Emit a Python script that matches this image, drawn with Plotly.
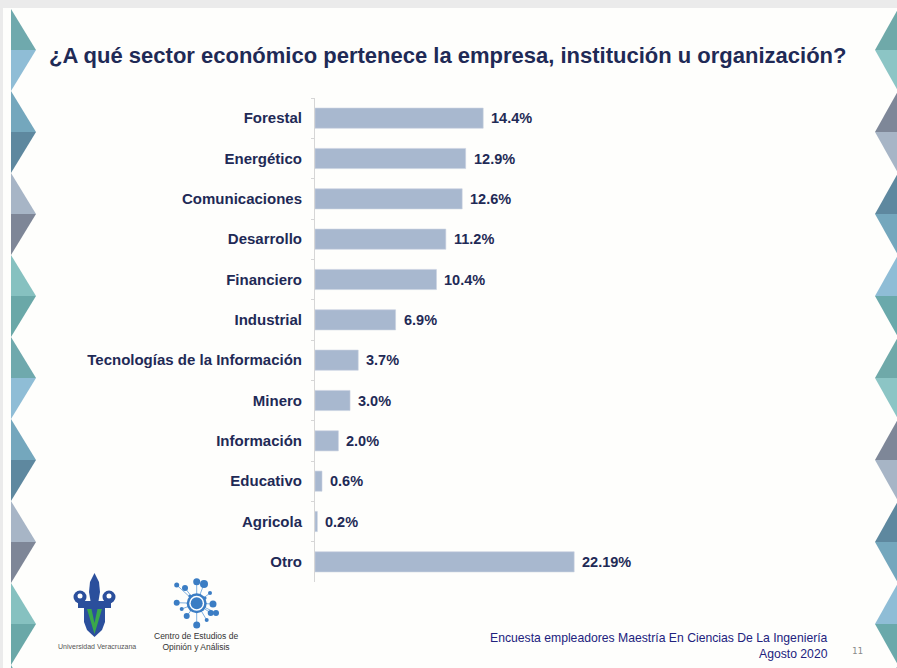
import plotly.graph_objects as go

W, H = 897, 668
L, R, T, B = 315, 290, 98, 86
PW, PH = W - L - R, H - T - B

categories = ["Forestal", "Energético", "Comunicaciones", "Desarrollo", "Financiero",
              "Industrial", "Tecnologías de la Información", "Minero", "Información",
              "Educativo", "Agricola", "Otro"]
values = [14.4, 12.9, 12.6, 11.2, 10.4, 6.9, 3.7, 3.0, 2.0, 0.6, 0.2, 22.19]
value_labels = ["14.4%", "12.9%", "12.6%", "11.2%", "10.4%", "6.9%", "3.7%", "3.0%",
                "2.0%", "0.6%", "0.2%", "22.19%"]

title = "¿A qué sector económico pertenece la empresa, institución u organización?"
footer1 = "Encuesta empleadores Maestría En Ciencias De La Ingeniería"
footer2 = "Agosto 2020"

NAVY = "#1f2a56"
FONT = "Liberation Sans"


def px(x):
    return (x - L) / PW


def py(y):
    return (H - B - y) / PH


def path(points):
    s = "M " + " L ".join(f"{px(x):.5f},{py(y):.5f}" for x, y in points) + " Z"
    return s


fig = go.Figure()
fig.add_trace(go.Bar(
    y=categories, x=values, orientation="h", width=0.5,
    marker=dict(color="#a8b8cf", line=dict(color="#c9d2e0", width=0.6)),
    hoverinfo="skip", cliponaxis=False,
))

shapes = []
# top grey band and left grey strip
shapes.append(dict(type="path", xref="paper", yref="paper", layer="below",
                   path=path([(0, 0), (W, 0), (W, 8), (0, 8)]),
                   fillcolor="#ebebeb", line=dict(width=0)))
shapes.append(dict(type="path", xref="paper", yref="paper", layer="below",
                   path=path([(0, 8), (3, 8), (3, H), (0, H)]),
                   fillcolor="#ebebeb", line=dict(width=0)))

left_cols = [("#6fa9ad", "#8fbdd6"), ("#74a7bd", "#5e889f"),
             ("#a7b5c6", "#7e8697"), ("#86c1c0", "#6aa8a8")]
right_cols = [("#6fa9a9", "#8cc5c5"), ("#7e8798", "#a7b5c6"),
              ("#5e889f", "#74a7bd"), ("#8fbdd6", "#6aa9ab")]
P = 82
for k in range(9):
    y0 = 9 + P * k
    ym = y0 + P / 2
    y1 = y0 + P
    lt, lb = left_cols[k % 4]
    rt, rb = right_cols[k % 4]
    for pts, col in [([(11, y0), (36, ym), (11, ym)], lt),
                     ([(11, ym), (36, ym), (11, y1)], lb),
                     ([(898, y0), (875, ym), (898, ym)], rt),
                     ([(898, ym), (875, ym), (898, y1)], rb)]:
        shapes.append(dict(type="path", xref="paper", yref="paper", layer="below",
                           path=path(pts), fillcolor=col, line=dict(width=0)))

# UV logo (approximation)
BLUE = "#2b4f9c"
GREEN = "#3aa84a"


def circ(cx, cy, r, col):
    return dict(type="circle", xref="paper", yref="paper",
                x0=px(cx - r), x1=px(cx + r), y0=py(cy + r), y1=py(cy - r),
                fillcolor=col, line=dict(width=0))


shapes.append(dict(type="path", xref="paper", yref="paper",
                   path=path([(94.5, 573), (99, 582), (100, 592), (98, 604), (91, 604), (89, 592), (90, 582)]),
                   fillcolor=BLUE, line=dict(width=0)))
shapes.append(circ(80, 597, 6.5, BLUE))
shapes.append(circ(109, 597, 6.5, BLUE))
shapes.append(circ(80, 596, 2.5, "#ffffff"))
shapes.append(circ(109, 596, 2.5, "#ffffff"))
shapes.append(dict(type="path", xref="paper", yref="paper",
                   path=path([(78, 601), (111, 601), (111, 608), (78, 608)]),
                   fillcolor=BLUE, line=dict(width=0)))
shapes.append(dict(type="path", xref="paper", yref="paper",
                   path=path([(84, 606), (105, 606), (105, 622), (102, 630), (94.5, 637), (87, 630), (84, 622)]),
                   fillcolor=BLUE, line=dict(width=0)))
shapes.append(dict(type="path", xref="paper", yref="paper",
                   path=path([(87, 609), (91.5, 609), (94.5, 623), (97.5, 609), (102, 609), (94.5, 634)]),
                   fillcolor=GREEN, line=dict(width=0)))

# Centro logo (approximation)
CB = "#3b7dc4"
nodes = [(196.7, 581.7, 3.5), (204, 584, 4), (185, 588, 3), (176.7, 585, 2.5),
         (176.7, 602.7, 3), (181.7, 609, 2), (186.7, 616, 3), (196.7, 625, 3.5),
         (206.7, 620, 2), (210.7, 613, 3), (216, 613, 3), (213, 604, 3.5),
         (210, 593, 2), (190, 596, 1.6), (205, 598, 1.6)]
for (x, y, r) in nodes:
    shapes.append(dict(type="line", xref="paper", yref="paper",
                       x0=px(196.7), y0=py(603.3), x1=px(x), y1=py(y),
                       line=dict(color="#7fb0e0", width=1)))
for (x, y, r) in nodes:
    shapes.append(circ(x, y, r, CB))
shapes.append(circ(196.7, 603.3, 10, CB))
shapes.append(circ(196.7, 603.3, 7.5, "#ffffff"))
shapes.append(circ(196.7, 603.3, 6, CB))

annotations = [
    dict(text=title, xref="paper", yref="paper", x=px(47), y=py(55),
         xanchor="left", yanchor="middle", showarrow=False,
         font=dict(family=FONT, size=22, color=NAVY, weight="bold")),
    dict(text=footer1, xref="paper", yref="paper", x=px(830), y=py(638),
         xanchor="right", yanchor="middle", showarrow=False,
         font=dict(family=FONT, size=12.2, color="#22227e")),
    dict(text=footer2, xref="paper", yref="paper", x=px(830), y=py(654),
         xanchor="right", yanchor="middle", showarrow=False,
         font=dict(family=FONT, size=12.2, color="#22227e")),
    dict(text="11", xref="paper", yref="paper", x=px(857), y=py(651),
         xanchor="center", yanchor="middle", showarrow=False,
         font=dict(family="DejaVu Sans Mono", size=9, color="#8a8a8a")),
    dict(text="Universidad Veracruzana", xref="paper", yref="paper", x=px(97), y=py(646),
         xanchor="center", yanchor="middle", showarrow=False,
         font=dict(family=FONT, size=7, color="#555555")),
    dict(text="Centro de Estudios de<br>Opinión y Análisis", xref="paper", yref="paper",
         x=px(196), y=py(641.5), xanchor="center", yanchor="middle", showarrow=False,
         font=dict(family=FONT, size=8.5, color="#333333")),
]
for c, v, lab in zip(categories, values, value_labels):
    annotations.append(dict(text=lab, x=v, y=c, xref="x", yref="y", xanchor="left",
                            yanchor="middle", xshift=6, showarrow=False,
                            font=dict(family=FONT, size=14.5, color=NAVY, weight="bold")))

fig.update_layout(
    width=W, height=H, margin=dict(l=L, r=R, t=T, b=B),
    paper_bgcolor="#fefefc", plot_bgcolor="rgba(0,0,0,0)",
    showlegend=False, shapes=shapes, annotations=annotations,
    xaxis=dict(range=[0, 25], visible=False, fixedrange=True),
    yaxis=dict(autorange=False, range=[11.5, -0.5], type="category",
               tickson="boundaries", ticks="outside", ticklen=3, tickcolor="#d6d6d6",
               showline=True, linecolor="#d6d6d6", linewidth=1, showgrid=False,
               ticklabelstandoff=9, fixedrange=True,
               tickfont=dict(family=FONT, size=15, color=NAVY, weight="bold")),
    bargap=0.5,
)

fig.write_html("out.html", config={"displayModeBar": False},
               post_script="document.body.style.margin='0px';document.body.style.overflow='hidden';")
